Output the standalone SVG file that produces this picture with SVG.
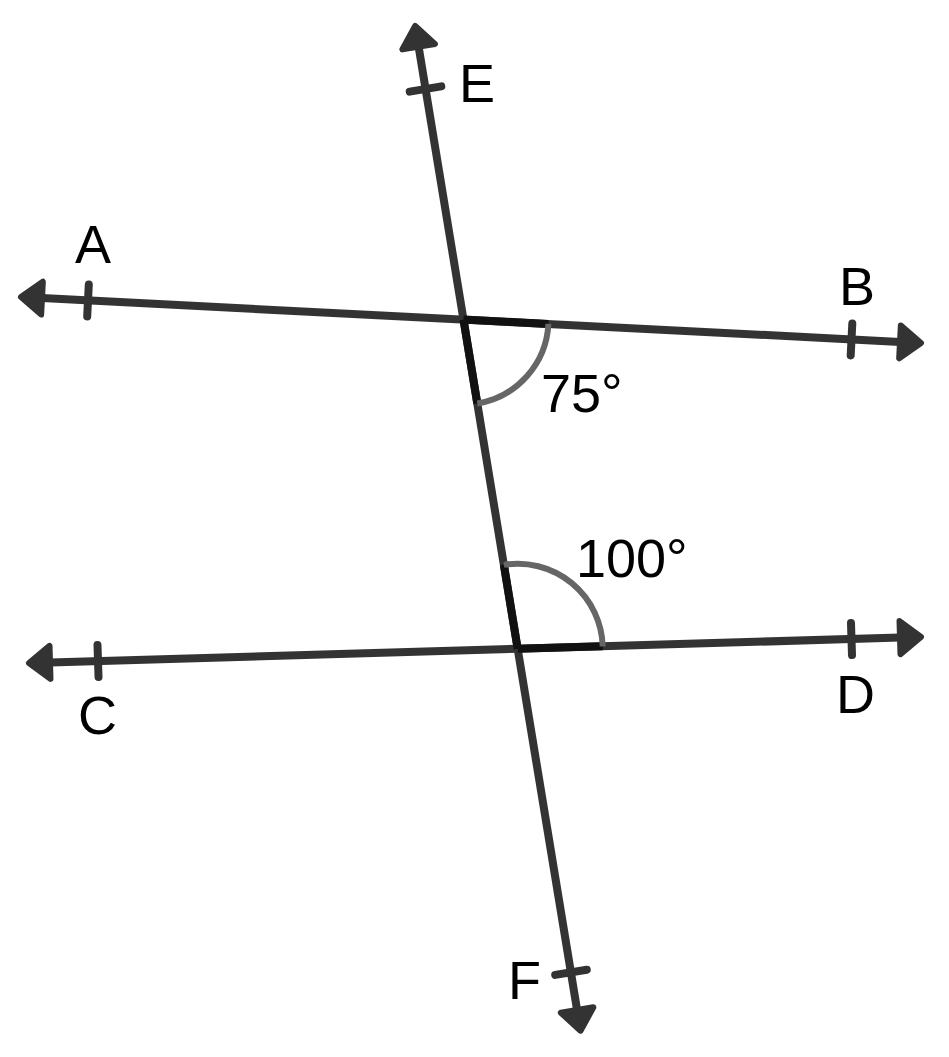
<svg xmlns="http://www.w3.org/2000/svg" width="949" height="1057" viewBox="0 0 949 1057">
<style>
.ln{stroke:#333;stroke-width:8;fill:none}
.tick{stroke:#333;stroke-width:8;stroke-linecap:round;fill:none}
.side{stroke:#111;stroke-width:8;fill:none}
.arc{stroke:#666;stroke-width:6;fill:none}
.lbl{font-family:"Liberation Sans",Arial,sans-serif;font-size:54px;fill:#000}
</style>
<defs>
<marker id="arr" markerUnits="userSpaceOnUse" markerWidth="50" markerHeight="50" refX="0" refY="0" viewBox="-10 -25 50 50" orient="auto-start-reverse" overflow="visible">
<polygon points="0,-16.5 21,0 0,16.5" fill="#333" stroke="#333" stroke-width="6" stroke-linejoin="round"/>
</marker>
</defs>
<rect width="949" height="1057" fill="#fff"/>
<g id="connectors">
<path id="lineAB" class="ln" d="M42,298.1 L900,341.9" marker-start="url(#arr)" marker-end="url(#arr)"/>
<path id="lineCD" class="ln" d="M50,662.4 L900,637.6" marker-start="url(#arr)" marker-end="url(#arr)"/>
<path id="lineEF" class="ln" d="M418.6,46.7 L577.1,1010" marker-start="url(#arr)" marker-end="url(#arr)"/>
</g>
<g id="ticks">
<line class="tick" x1="88.8" y1="284.5" x2="87.2" y2="316.5"/>
<line class="tick" x1="852.3" y1="323.4" x2="850.7" y2="355.4"/>
<line class="tick" x1="97.5" y1="645" x2="98.5" y2="677"/>
<line class="tick" x1="851" y1="623.1" x2="852" y2="655.1"/>
<line class="tick" x1="409.7" y1="91.6" x2="441.3" y2="86.4"/>
<line class="tick" x1="555.2" y1="974.9" x2="586.8" y2="969.7"/>
</g>
<g id="angle75">
<path class="side" d="M463.5,319.6 L548.4,323.9 M463.5,319.6 L477.3,403.5"/>
<path class="arc" d="M548.4,323.9 A85,85 0 0 1 477.3,403.5"/>
</g>
<g id="angle100">
<path class="side" d="M517.7,648.8 L602.7,646.3 M517.7,648.8 L503.9,564.9"/>
<path class="arc" d="M503.9,564.9 A85,85 0 0 1 602.7,646.3"/>
</g>
<g id="labels">
<text class="lbl" x="459" y="102">E</text>
<text class="lbl" x="75" y="263">A</text>
<text class="lbl" x="839" y="305">B</text>
<text class="lbl" x="78" y="734">C</text>
<text class="lbl" x="836" y="713">D</text>
<text class="lbl" x="508" y="999">F</text>
<text class="lbl" x="541" y="412">75°</text>
<text class="lbl" x="576" y="577">100°</text>
</g>
</svg>
